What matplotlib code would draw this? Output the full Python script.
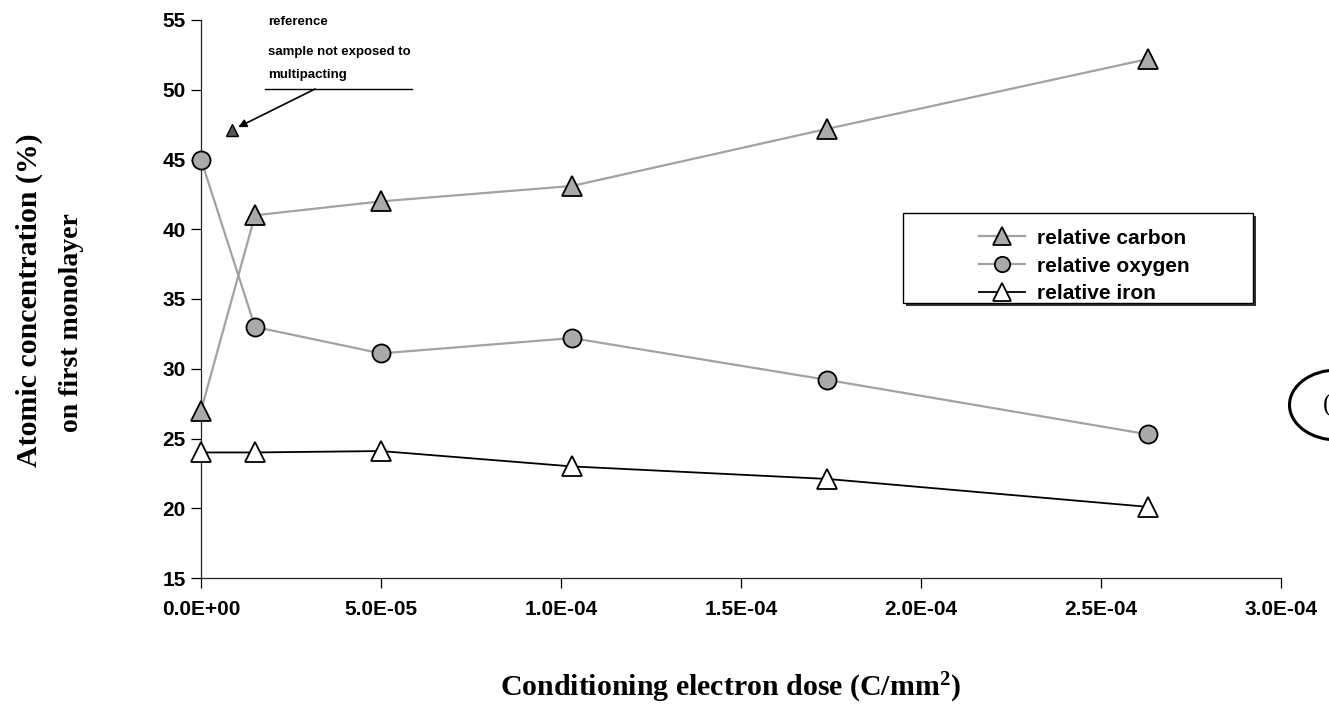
import matplotlib
matplotlib.use("Agg")
import matplotlib.pyplot as plt
from matplotlib.ticker import FormatStrFormatter, MultipleLocator
from matplotlib.patches import Rectangle, Ellipse
from matplotlib.lines import Line2D

plt.rcParams['mathtext.fontset'] = 'custom'
plt.rcParams['mathtext.rm'] = 'Liberation Serif:bold'
plt.rcParams['mathtext.default'] = 'rm'

# Dados
dose = [0.0, 1.5e-5, 5.0e-5, 1.03e-4, 1.74e-4, 2.63e-4]
carbono = [27.0, 41.0, 42.0, 43.1, 47.2, 52.2]
oxigenio = [45.0, 33.0, 31.1, 32.2, 29.2, 25.3]
ferro = [24.0, 24.0, 24.1, 23.0, 22.1, 20.1]

# Amostra de referência (não exposta ao multipacting)
dose_ref = [8.6e-6]
carbono_ref = [47.1]

W, H = 1329, 714
def fx(px):
    return px / W
def fy(py):
    return 1 - py / H

fig = plt.figure(figsize=(W / 100, H / 100), dpi=100)
ax = fig.add_axes([fx(201), fy(578), fx(1080), 558 / H])

cinza_linha = '#a2a2a2'
cinza_marca = '#aaaaaa'

ax.plot(dose, carbono, color=cinza_linha, lw=1.6, marker='^', ms=15,
        mfc=cinza_marca, mec='black', mew=1.3, label='relative carbon',
        zorder=3, clip_on=False)
ax.plot(dose, oxigenio, color=cinza_linha, lw=1.6, marker='o', ms=13,
        mfc=cinza_marca, mec='black', mew=1.3, label='relative oxygen',
        zorder=3, clip_on=False)
ax.plot(dose, ferro, color='black', lw=1.3, marker='^', ms=15,
        mfc='white', mec='black', mew=1.3, label='relative iron',
        zorder=3, clip_on=False)

# ponto de referência com seta
ax.plot(dose_ref, carbono_ref, ls='none', marker='^', ms=8, mfc='#555555',
        mec='black', mew=1.0, zorder=4)
ax.annotate('', xy=(dose_ref[0], carbono_ref[0]), xycoords='data',
            xytext=(fx(315), fy(89)), textcoords='figure fraction',
            arrowprops=dict(arrowstyle='-|>', color='black', lw=1.2,
                            shrinkA=0, shrinkB=5, mutation_scale=12))
fig.add_artist(Line2D([fx(265), fx(412)], [fy(89), fy(89)], color='black', lw=1.0))

fonte_nota = dict(family='Liberation Sans', weight='bold', fontsize=9.5, va='center', ha='left')
fig.text(fx(268), fy(22), 'reference', **fonte_nota)
fig.text(fx(268), fy(52), 'sample not exposed to', **fonte_nota)
fig.text(fx(268), fy(75), 'multipacting', **fonte_nota)

# eixos
ax.set_xlim(0, 3.0e-4)
ax.set_ylim(15, 55)
ax.xaxis.set_major_locator(MultipleLocator(5e-5))
ax.yaxis.set_major_locator(MultipleLocator(5))
ax.xaxis.set_major_formatter(FormatStrFormatter('%.1E'))
for lado in ['top', 'right']:
    ax.spines[lado].set_visible(False)
for lado in ['left', 'bottom']:
    ax.spines[lado].set_color('#222222')
    ax.spines[lado].set_linewidth(0.9)
ax.tick_params(axis='both', direction='out', length=7, width=0.9, labelsize=15)
ax.tick_params(axis='x', pad=9)
ax.tick_params(axis='y', pad=4)
for lbl in ax.get_xticklabels() + ax.get_yticklabels():
    lbl.set_fontfamily('Liberation Sans')
    lbl.set_fontweight('bold')

# rótulos dos eixos
fig.text(fx(731), fy(688), 'Conditioning electron dose (C/mm$^2$)',
         ha='center', va='center', family='Liberation Serif', weight='bold', fontsize=21.5)
fig.text(fx(29), fy(300), 'Atomic concentration (%)', rotation=90,
         ha='center', va='center', family='Liberation Serif', weight='bold', fontsize=21.5)
fig.text(fx(71), fy(323), 'on first monolayer', rotation=90,
         ha='center', va='center', family='Liberation Serif', weight='bold', fontsize=20)

# legenda com moldura e sombra
sombra = Rectangle((fx(906), fy(306)), fx(350), 90 / H, transform=fig.transFigure,
                   facecolor='#333333', edgecolor='none', clip_on=False, zorder=4)
moldura = Rectangle((fx(903), fy(303)), fx(350), 90 / H, transform=fig.transFigure,
                    facecolor='white', edgecolor='black', lw=1.0, clip_on=False, zorder=4.5)
ax.add_patch(sombra)
ax.add_patch(moldura)
leg = ax.legend(loc='upper left', bbox_to_anchor=(fx(960), fy(210)),
                bbox_transform=fig.transFigure, frameon=False,
                prop=dict(family='Liberation Sans', weight='bold', size=15),
                handlelength=2.2, handletextpad=0.6, labelspacing=0.42,
                markerscale=0.85)
leg.set_zorder(6)

# marca cortada na borda direita
fig.add_artist(Ellipse((fx(1337), fy(405)), fx(95), 70 / H, transform=fig.transFigure,
                       fill=False, edgecolor='black', lw=2.2))
fig.text(fx(1323), fy(405), '(', family='Liberation Serif', fontsize=18,
         ha='left', va='center')

plt.savefig('out.png', dpi=100)
plt.close()
